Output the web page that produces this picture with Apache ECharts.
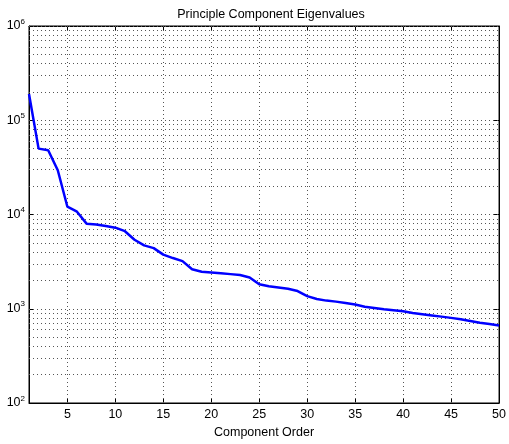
<!DOCTYPE html>
<html>
<head>
<meta charset="utf-8">
<script src="https://cdn.jsdelivr.net/npm/echarts@6/dist/echarts.min.js"></script>
<style>
  html, body { margin: 0; padding: 0; background: #fff; }
  #chart { width: 509px; height: 444px; }
</style>
</head>
<body>
<div id="chart"></div>
<script>
// component index 1..50
var components = [];
for (var i = 1; i <= 50; i++) components.push(i);

// eigenvalues
var eigenvalues = [
  190000, 50000, 48000, 29500, 12100, 10700, 8000, 7850, 7550, 7250,
  6650, 5400, 4700, 4400, 3750, 3450, 3200, 2620, 2470, 2430,
  2380, 2330, 2280, 2150, 1820, 1730, 1680, 1630, 1540, 1360,
  1270, 1220, 1190, 1150, 1110, 1050, 1020, 990, 965, 940,
  900, 875, 850, 825, 800, 773, 742, 712, 690, 665
];

var xTicks = [5, 10, 15, 20, 25, 30, 35, 40, 45, 50];
var xGrid = [5, 10, 15, 20, 25, 30, 35, 40, 45];
// log grid: 2..10 x each decade
var yGrid = [];
[100, 1000, 10000, 100000].forEach(function (d) {
  for (var k = 2; k <= 10; k++) yGrid.push(d * k);
});

var myChart = echarts.init(document.getElementById("chart"));

var gridLine = { color: "#555", width: 1, type: [1, 3] };
var font = "Liberation Sans, Arial, sans-serif";

var option = {
  backgroundColor: "#fff",
  animation: false,
  title: {
    text: "Principle Component Eigenvalues",
    left: 266,
    textAlign: "center",
    top: 3,
    textStyle: { fontFamily: font, fontSize: 12.5, fontWeight: "normal", color: "#000" }
  },
  grid: {
    left: 29,
    right: 6,
    top: 26,
    bottom: 41,
    show: true,
    borderColor: "#000",
    borderWidth: 1,
    backgroundColor: "#fff"
  },
  xAxis: [
    {
      type: "value",
      min: 1,
      max: 50,
      name: "Component Order",
      nameLocation: "middle",
      nameGap: 23,
      nameTextStyle: { fontFamily: font, fontSize: 12.5, color: "#000" },
      axisLine: { show: true, lineStyle: { color: "#000" } },
      axisTick: { show: true, inside: true, length: 5, customValues: xTicks, lineStyle: { color: "#000" } },
      axisLabel: { customValues: xTicks, margin: 5, fontFamily: font, fontSize: 12.5, color: "#000" },
      splitLine: { show: false }
    },
    {
      type: "value",
      position: "top",
      min: 1,
      max: 50,
      axisLine: { show: true, lineStyle: { color: "#000" } },
      axisTick: { show: true, inside: true, length: 5, customValues: xTicks, lineStyle: { color: "#000" } },
      axisLabel: { show: false },
      splitLine: { show: false }
    }
  ],
  yAxis: [
    {
      type: "log",
      logBase: 10,
      min: 100,
      max: 1000000,
      axisLine: { show: true, lineStyle: { color: "#000" } },
      axisTick: { show: true, inside: true, length: 5, lineStyle: { color: "#000" } },
      axisLabel: {
        margin: 4,
        formatter: function (v) {
          var e = Math.round(Math.log10(v));
          return "{b|10}{s|" + e + "}";
        },
        rich: {
          b: { fontFamily: font, fontSize: 12.5, color: "#000" },
          s: { fontFamily: font, fontSize: 8, color: "#000", padding: [0, 0, 9, 0] }
        }
      },
      splitLine: { show: false }
    },
    {
      type: "log",
      logBase: 10,
      min: 100,
      max: 1000000,
      position: "right",
      axisLine: { show: true, lineStyle: { color: "#000" } },
      axisTick: { show: true, inside: true, length: 5, lineStyle: { color: "#000" } },
      axisLabel: { show: false },
      splitLine: { show: false }
    }
  ],
  series: [
    {
      name: "grid",
      type: "line",
      data: [],
      silent: true,
      z: 1,
      markLine: {
        silent: true,
        symbol: "none",
        label: { show: false },
        lineStyle: gridLine,
        data: xGrid.map(function (v) { return { xAxis: v }; })
          .concat(yGrid.map(function (v) { return { yAxis: v }; }))
      }
    },
    {
      name: "Eigenvalues",
      type: "line",
      z: 5,
      data: components.map(function (c, i) { return [c, eigenvalues[i]]; }),
      symbol: "none",
      lineStyle: { color: "#0000ff", width: 2.5 },
      itemStyle: { color: "#0000ff" }
    }
  ]
};

myChart.setOption(option);
</script>
</body>
</html>
